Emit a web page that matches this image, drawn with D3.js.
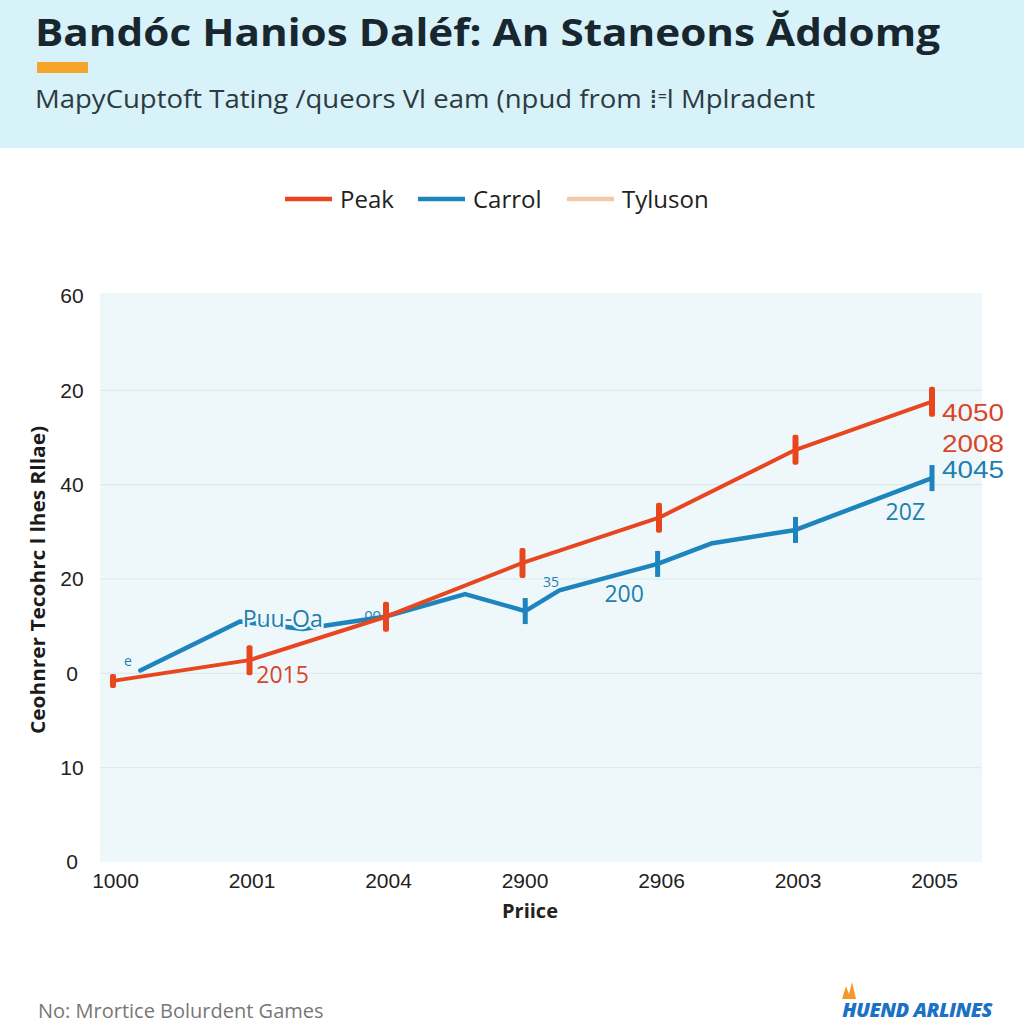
<!DOCTYPE html>
<html>
<head>
<meta charset="utf-8">
<script src="https://cdn.jsdelivr.net/npm/d3@7"></script>
<style>
  body { margin: 0; background: #ffffff; }
  svg { display: block; font-family: "Open Sans", "DejaVu Sans", sans-serif; }
</style>
</head>
<body>
<div id="chart"></div>
<script>
// tick labels as they appear on the picture
const xLabels = ["1000", "2001", "2004", "2900", "2906", "2003", "2005"];
const yLabels = ["0", "10", "0", "20", "40", "20", "60"]; // bottom -> top

// values in grid units (0 = bottom gridline, 6 = top)
const peakX = [0, 1, 2, 3, 4, 5, 6];
const peakY = [1.92, 2.14, 2.6, 3.17, 3.65, 4.37, 4.88];

const carrolX = [0.2, 0.93, 1.39, 1.99, 2.58, 3.02, 3.27, 3.99, 4.39, 5.0, 6.0];
const carrolY = [2.03, 2.55, 2.47, 2.6, 2.84, 2.66, 2.88, 3.16, 3.38, 3.52, 4.07];
const carrolMarks = [5, 7, 9, 10];

const seriesNames = ["Peak", "Carrol", "Tyluson"];
const seriesColors = ["#e8461e", "#1d84bd", "#f6c9a6"];

// annotations [x, y, text, series]
const notes = [
  [0.95, 2.49, "Puu-Oa", 1],
  [1.05, 1.9, "2015", 0],
  [3.6, 2.76, "200", 1],
  [5.66, 3.63, "20Z", 1]
];
// stacked end labels [y, text, series]
const endNotes = [
  [4.67, "4050", 0],
  [4.35, "2008", 0],
  [4.07, "4045", 1]
];
// tiny stray marks next to the Carrol line
const smallNotes = [
  [0.08, 2.08, "e"],
  [1.84, 2.58, "oo"],
  [3.15, 2.92, "35"]
];

function drawChart(divname) {
  const W = 1024, H = 1024;
  const svg = d3.select(divname).append("svg").attr("width", W).attr("height", H);

  // header band
  svg.append("rect").attr("x", 0).attr("y", 0).attr("width", W).attr("height", 148)
    .attr("fill", "#d8f2fa");
  svg.append("text").attr("x", 35).attr("y", 46)
    .style("font-weight", "bold").style("font-size", "37px").attr("fill", "#17262f")
    .attr("textLength", 905).attr("lengthAdjust", "spacingAndGlyphs")
    .text("Bandóc Hanios Daléf: An Staneons Ăddomg");
  svg.append("rect").attr("x", 37).attr("y", 62).attr("width", 51).attr("height", 11)
    .attr("fill", "#f5a52a");
  svg.append("text").attr("x", 35).attr("y", 108)
    .style("font-size", "26px").attr("fill", "#2d3a40")
    .attr("textLength", 780).attr("lengthAdjust", "spacingAndGlyphs")
    .text("MapyCuptoft Tating /queors Vl eam (npud from ⁞⁼l Mplradent");

  const left = 100, right = 982, top = 293, bottom = 862;
  const x = d3.scaleLinear().domain([0, 6]).range([113, 932]);
  const y = d3.scaleLinear().domain([0, 6]).range([bottom, 296]);

  // plot background
  svg.append("rect").attr("x", left).attr("y", top).attr("width", right - left)
    .attr("height", bottom - top).attr("fill", "#eef8fb");

  // gridlines
  svg.append("g").selectAll("line").data(d3.range(1, 6)).join("line")
    .attr("x1", left).attr("x2", right)
    .attr("y1", d => y(d)).attr("y2", d => y(d))
    .attr("stroke", "#dde9ee").attr("stroke-width", 1.2);

  // y axis
  const yAxis = d3.axisLeft(y).tickValues(d3.range(0, 7))
    .tickFormat(d => yLabels[d]).tickSize(0).tickPadding(0);
  const gy = svg.append("g").attr("transform", "translate(84,0)").call(yAxis);
  gy.select(".domain").remove();
  gy.selectAll("text").style("font-size", "21px").attr("fill", "#222")
    .attr("text-anchor", "middle").attr("x", -12);

  // x axis
  const xAxis = d3.axisBottom(x).tickValues(d3.range(0, 7))
    .tickFormat(d => xLabels[d]).tickSize(0).tickPadding(0);
  const gx = svg.append("g").attr("transform", "translate(2," + 873 + ")").call(xAxis);
  gx.select(".domain").remove();
  gx.selectAll("text").style("font-size", "21px").attr("fill", "#222")
    .style("font-family", "'Liberation Sans', sans-serif");

  svg.append("text").attr("x", 530).attr("y", 918).attr("text-anchor", "middle")
    .style("font-weight", "bold").style("font-size", "20px").attr("fill", "#222")
    .text("Priice");

  svg.append("text")
    .attr("transform", "translate(45,580) rotate(-90)").attr("text-anchor", "middle")
    .style("font-weight", "bold").style("font-size", "20px").attr("fill", "#1b1b1b")
    .attr("textLength", 308).attr("lengthAdjust", "spacingAndGlyphs")
    .text("Ceohnrer Tecohrc l lhes  Rllae)");

  // legend
  const legX = [285, 418, 567];
  const lg = svg.append("g").selectAll("g").data(seriesNames).join("g")
    .attr("transform", (d, i) => "translate(" + legX[i] + ",199)");
  lg.append("line").attr("x1", 0).attr("x2", 47).attr("y1", 0).attr("y2", 0)
    .attr("stroke", (d, i) => seriesColors[i]).attr("stroke-width", 4.5);
  lg.append("text").attr("x", 55).attr("y", 9).style("font-size", "24px")
    .attr("fill", "#222").text(d => d);

  const line = d3.line().x(d => x(d[0])).y(d => y(d[1]));

  // Carrol series
  const carrol = carrolX.map((v, i) => [v, carrolY[i]]);
  svg.append("path").datum(carrol).attr("d", line).attr("fill", "none")
    .attr("stroke", seriesColors[1]).attr("stroke-width", 4.5)
    .attr("stroke-linejoin", "round").attr("stroke-linecap", "round");
  svg.append("g").selectAll("rect").data(carrolMarks).join("rect")
    .attr("x", i => x(carrol[i][0]) - 2.5).attr("y", i => y(carrol[i][1]) - 13)
    .attr("width", 5).attr("height", 26).attr("fill", seriesColors[1]);
  svg.append("g").selectAll("text").data(smallNotes).join("text")
    .attr("x", d => x(d[0])).attr("y", d => y(d[1]))
    .style("font-size", "14px").attr("fill", "#1f7fae").text(d => d[2]);

  // Peak series
  const peak = peakX.map((v, i) => [v, peakY[i]]);
  svg.append("path").datum(peak).attr("d", line).attr("fill", "none")
    .attr("stroke", seriesColors[0]).attr("stroke-width", 4)
    .attr("stroke-linejoin", "round").attr("stroke-linecap", "round");
  svg.append("g").selectAll("rect").data(peak).join("rect")
    .attr("x", d => x(d[0]) - 3).attr("y", (d, i) => y(d[1]) - (i === 0 ? 7 : 15))
    .attr("width", 6).attr("height", (d, i) => i === 0 ? 14 : 30).attr("rx", 2)
    .attr("fill", seriesColors[0]);

  // annotations, with a halo that breaks the line under them
  svg.append("g").selectAll("text").data(notes).join("text")
    .attr("x", d => x(d[0])).attr("y", d => y(d[1]))
    .style("font-size", "23px").attr("fill", d => d[3] === 0 ? "#d9442a" : "#1f7fae")
    .attr("stroke", "#eef8fb").attr("stroke-width", 5).attr("paint-order", "stroke")
    .text(d => d[2]);

  svg.append("g").selectAll("text").data(endNotes).join("text")
    .attr("x", x(6) + 10).attr("y", d => y(d[0]))
    .style("font-family", "'Liberation Sans', sans-serif").style("font-size", "24px")
    .attr("textLength", 62).attr("lengthAdjust", "spacingAndGlyphs")
    .attr("fill", d => d[2] === 0 ? "#d9442a" : "#1f7fae")
    .text(d => d[1]);

  // footer
  svg.append("text").attr("x", 38).attr("y", 1018).style("font-size", "20px")
    .attr("fill", "#777").text("No: Mrortice Bolurdent Games");
  svg.append("path").attr("d", "M842,999 L846,986 L849,994 L852,982 L856,999 Z")
    .attr("fill", "#f29a2e");
  svg.append("text").attr("x", 992).attr("y", 1017).attr("text-anchor", "end")
    .style("font-weight", "900").style("font-style", "italic").style("font-size", "20px")
    .style("letter-spacing", "-0.5px").attr("fill", "#1a72c4").text("HUEND ARLINES");
}

drawChart("#chart");
</script>
</body>
</html>
